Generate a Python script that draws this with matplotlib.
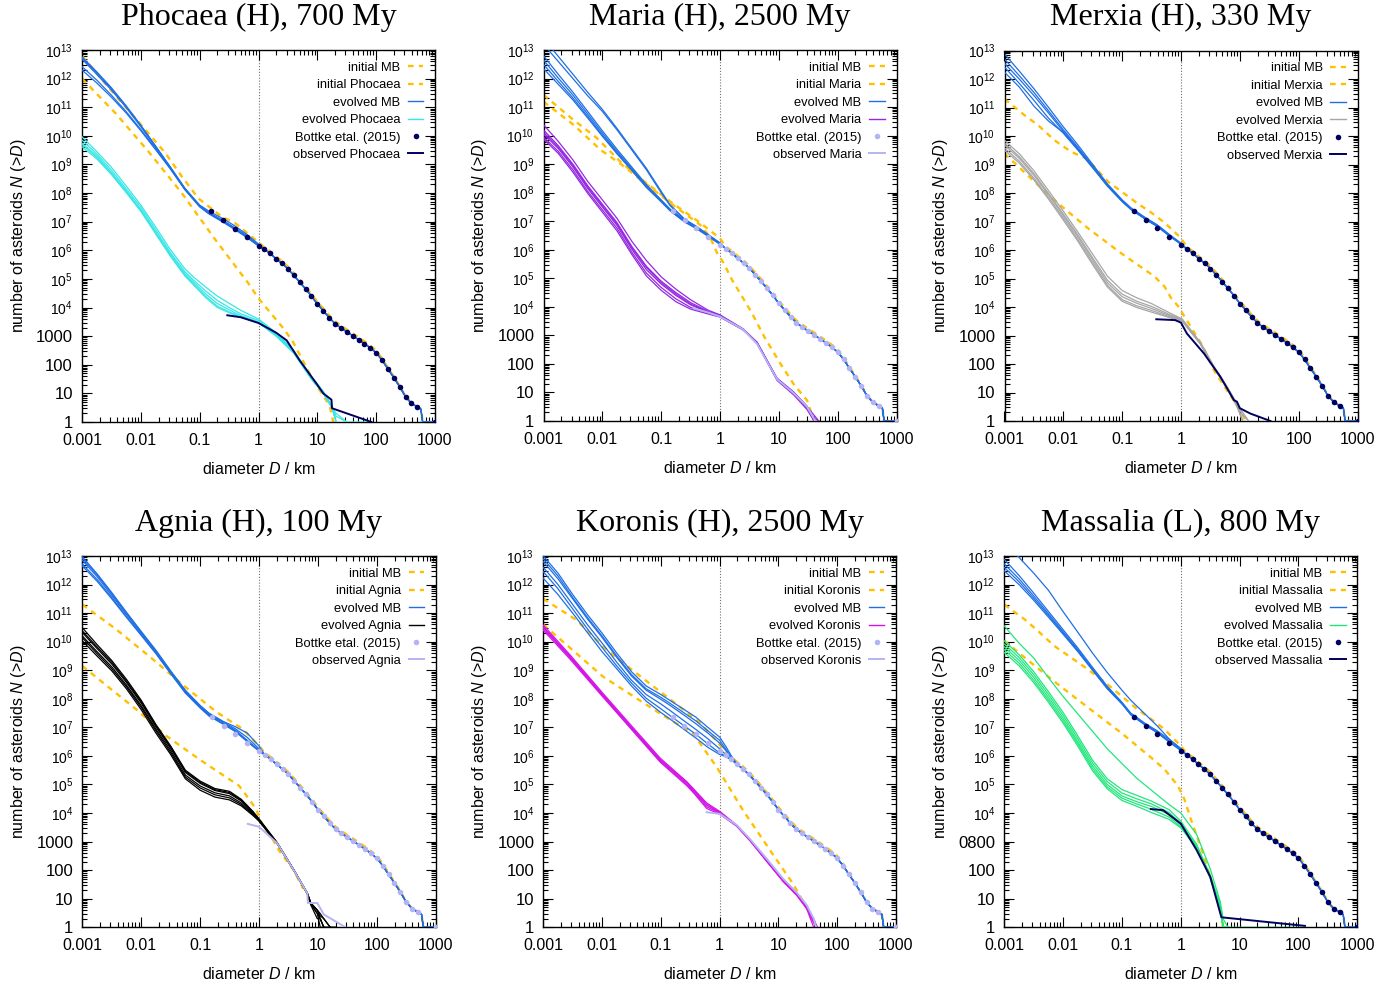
import numpy as np
import matplotlib
matplotlib.use('Agg')
import matplotlib.pyplot as plt
from matplotlib.lines import Line2D
from matplotlib.ticker import LogLocator, NullFormatter

plt.rcParams['font.family'] = ['Liberation Sans', 'DejaVu Sans']
plt.rcParams['mathtext.fontset'] = 'custom'
plt.rcParams['mathtext.rm'] = 'Liberation Sans'
plt.rcParams['mathtext.it'] = 'Liberation Sans:italic'

# ---------------- common data (log10 D [km], log10 N(>D)) ----------------
BOTTKE_LOGD = [-0.8, -0.6, -0.4, -0.2, 0.0, 0.1, 0.2, 0.3, 0.4, 0.5, 0.6, 0.7, 0.8, 0.9, 1.0,
               1.1, 1.2, 1.3, 1.4, 1.5, 1.6, 1.7, 1.8, 1.9, 2.0, 2.1, 2.2, 2.3, 2.4, 2.5, 2.6, 2.7, 3.0]
BOTTKE_LOGN = [7.37, 7.06, 6.76, 6.45, 6.16, 6.03, 5.89, 5.70, 5.54, 5.35, 5.12, 4.89, 4.65, 4.40, 4.12,
               3.89, 3.65, 3.44, 3.29, 3.15, 3.02, 2.88, 2.74, 2.59, 2.42, 2.16, 1.85, 1.55, 1.23, 0.88, 0.65, 0.53, 0.0]

MB_GRID = [-3.0, -2.75, -2.5, -2.25, -2.0, -1.75, -1.5, -1.25, -1.0, -0.85, -0.6, -0.4, -0.2, 0.0]
MB_TAIL_D = [0.1, 0.2, 0.3, 0.4, 0.5, 0.6, 0.7, 0.8, 0.9, 1.0, 1.1, 1.2, 1.3, 1.4, 1.5, 1.6, 1.7, 1.8,
             1.9, 2.0, 2.1, 2.2, 2.3, 2.4, 2.5, 2.6, 2.7, 2.76, 2.79, 3.0]
MB_TAIL_N = [6.03, 5.89, 5.70, 5.54, 5.35, 5.12, 4.89, 4.65, 4.40, 4.12, 3.89, 3.65, 3.44, 3.29, 3.15,
             3.02, 2.88, 2.74, 2.59, 2.42, 2.16, 1.85, 1.55, 1.23, 0.88, 0.65, 0.53, 0.45, 0.0, 0.0]
INIT_MB_TAIL_N = [6.10, 5.96, 5.78, 5.62, 5.43, 5.20, 4.97, 4.72, 4.47, 4.20, 3.97, 3.73, 3.52, 3.37, 3.23,
                  3.10, 2.96, 2.82, 2.67, 2.50, 2.22, 1.90, 1.58, 1.26, 0.90, 0.66, 0.54, 0.46, 0.0, 0.0]

# ---------------- Phocaea ----------------
PHO_INIT_MB_D = [-3.0, -2.49, -1.87, -1.58, -1.30, -1.02, -0.62, -0.39, 0.0]
PHO_INIT_MB_N = [12.8, 11.55, 10.09, 9.39, 8.57, 7.81, 7.17, 6.94, 6.28]
PHO_INIT_FAM_D = [-3.0, -2.43, -1.87, -1.30, -0.73, -0.17, 0.0, 0.40, 0.57, 0.93, 1.21, 1.27]
PHO_INIT_FAM_N = [12.0, 10.79, 9.45, 7.99, 6.36, 4.84, 4.32, 3.33, 2.86, 1.46, 0.57, 0.0]
PHO_MB_RUNS = [
    [12.72, 12.20, 11.65, 11.03, 10.35, 9.63, 8.90, 8.15, 7.55, 7.33, 7.04, 6.77, 6.50, 6.18],
    [12.76, 12.24, 11.68, 11.05, 10.37, 9.65, 8.92, 8.17, 7.58, 7.38, 7.10, 6.85, 6.56, 6.22],
    [12.68, 12.15, 11.60, 10.99, 10.32, 9.60, 8.88, 8.13, 7.52, 7.28, 6.98, 6.72, 6.45, 6.15],
    [12.42, 11.95, 11.42, 10.85, 10.22, 9.55, 8.86, 8.12, 7.53, 7.30, 7.00, 6.75, 6.47, 6.16],
    [12.30, 11.85, 11.35, 10.80, 10.18, 9.52, 8.85, 8.12, 7.54, 7.32, 7.02, 6.78, 6.52, 6.19],
]
PHO_FAM_D = [-3.0, -2.75, -2.5, -2.25, -2.0, -1.75, -1.5, -1.25, -1.1, -0.9, -0.7, -0.5, -0.3, 0.0,
             0.3, 0.6, 0.9, 1.1, 1.25, 1.32, 1.5, 1.85]
PHO_FAM_RUNS = [
    [9.97, 9.45, 8.90, 8.25, 7.58, 6.82, 6.03, 5.35, 5.06, 4.72, 4.40, 4.15, 3.90, 3.60, 3.12, 2.50, 1.58, 1.08, 0.55, 0.00, None, None],
    [9.85, 9.37, 8.80, 8.15, 7.50, 6.72, 5.93, 5.25, 4.95, 4.58, 4.25, 4.00, 3.78, 3.55, 3.08, 2.48, 1.55, 1.05, 0.50, 0.30, 0.00, 0.00],
    [9.74, 9.30, 8.72, 8.08, 7.42, 6.64, 5.86, 5.18, 4.88, 4.48, 4.14, 3.92, 3.72, 3.50, 3.05, 2.45, 1.52, 1.02, 0.48, 0.00, None, None],
    [9.62, 9.20, 8.65, 8.02, 7.36, 6.58, 5.80, 5.10, 4.78, 4.35, 4.00, 3.82, 3.66, 3.48, 3.02, 2.42, 1.50, 1.00, 0.50, 0.00, None, None],
    [9.70, 9.25, 8.68, 8.05, 7.40, 6.62, 5.84, 5.14, 4.82, 4.40, 4.05, 3.85, 3.68, 3.47, 3.00, 2.40, 1.50, 1.02, 0.52, 0.20, 0.00, None],
]
PHO_OBS_D = [-0.53, -0.3, 0.0, 0.3, 0.48, 0.7, 0.99, 1.1, 1.24, 1.25, 1.92]
PHO_OBS_N = [3.73, 3.66, 3.46, 3.12, 2.85, 2.15, 1.33, 1.0, 0.78, 0.48, 0.0]

# ---------------- Maria ----------------
MAR_INIT_MB_D = [-3.0, -2.49, -2.09, -1.67, -1.3, -0.82, -0.34, 0.0]
MAR_INIT_MB_N = [11.43, 10.55, 9.91, 9.04, 8.42, 7.65, 6.95, 6.40]
MAR_INIT_FAM_D = [-3.0, -2.49, -2.03, -1.67, -1.3, -0.82, -0.34, -0.17, -0.05, 0.06, 0.2, 0.37, 0.54, 0.75,
                  1.03, 1.25, 1.48, 1.6]
MAR_INIT_FAM_N = [11.19, 10.38, 9.5, 8.98, 8.38, 7.6, 6.88, 6.45, 5.89, 5.54, 4.96, 4.38, 3.79, 2.96,
                  2.0, 1.3, 0.72, 0.0]
MAR_MB_RUNS = [
    [12.65, 12.02, 11.42, 10.76, 10.09, 9.45, 8.85, 8.24, 7.72, 7.40, 7.00, 6.77, 6.50, 6.22],
    [12.80, 12.15, 11.52, 10.85, 10.17, 9.52, 8.90, 8.28, 7.75, 7.43, 7.03, 6.80, 6.52, 6.24],
    [12.50, 11.90, 11.32, 10.68, 10.02, 9.40, 8.80, 8.20, 7.70, 7.38, 6.98, 6.75, 6.48, 6.20],
    [12.35, 11.80, 11.25, 10.62, 9.98, 9.36, 8.78, 8.18, 7.68, 7.37, 6.97, 6.74, 6.47, 6.19],
    [13.20, 12.60, 12.00, 11.40, 10.85, 10.20, 9.50, 8.80, 8.00, 7.55, 7.05, 6.80, 6.52, 6.22],
    [13.40, 12.78, 12.15, 11.52, 10.92, 10.25, 9.55, 8.85, 8.05, 7.58, 7.07, 6.82, 6.53, 6.23],
]
MAR_FAM_D = [-3.0, -2.75, -2.5, -2.25, -2.0, -1.75, -1.5, -1.25, -1.0, -0.75, -0.5, -0.2, 0.0, 0.4,
             0.63, 0.97, 1.25, 1.48, 1.6, 1.68]
MAR_FAM_RUNS = [
    [10.38, 9.80, 9.15, 8.40, 7.75, 7.10, 6.30, 5.62, 5.05, 4.62, 4.25, 3.88, 3.72, 3.22, 2.76, 1.50, 1.02, 0.52, 0.00, None],
    [10.20, 9.65, 9.00, 8.25, 7.60, 6.95, 6.12, 5.42, 4.90, 4.50, 4.15, 3.84, 3.70, 3.21, 2.75, 1.48, 1.00, 0.50, 0.20, 0.00],
    [10.05, 9.55, 8.90, 8.15, 7.50, 6.85, 6.02, 5.30, 4.80, 4.40, 4.07, 3.81, 3.68, 3.20, 2.74, 1.46, 0.98, 0.45, 0.00, None],
    [9.95, 9.45, 8.80, 8.05, 7.40, 6.75, 5.92, 5.18, 4.68, 4.28, 3.98, 3.78, 3.66, 3.19, 2.73, 1.44, 0.95, 0.48, 0.10, 0.00],
    [9.88, 9.38, 8.72, 7.98, 7.32, 6.66, 5.84, 5.08, 4.58, 4.18, 3.92, 3.75, 3.64, 3.18, 2.72, 1.42, 0.92, 0.40, 0.00, None],
    [10.12, 9.60, 8.95, 8.20, 7.55, 6.90, 6.08, 5.38, 4.85, 4.45, 4.10, 3.82, 3.69, 3.20, 2.74, 1.47, 0.99, 0.50, 0.00, None],
]
MAR_OBS_D = [-0.45, -0.2, 0.0, 0.4, 0.63, 0.97, 1.25, 1.48, 1.62]
MAR_OBS_N = [3.95, 3.8, 3.66, 3.2, 2.7, 1.46, 0.98, 0.5, 0.0]

# ---------------- Merxia ----------------
MER_INIT_MB_D = [-3.0, -2.66, -2.43, -2.15, -1.87, -1.6, -1.24, -0.73, -0.51, -0.28, 0.0]
MER_INIT_MB_N = [11.3, 10.73, 10.38, 9.85, 9.45, 9.2, 8.4, 7.62, 7.32, 6.96, 6.42]
MER_INIT_FAM_D = [-3.0, -2.55, -2.09, -1.58, -1.02, -0.45, -0.28, -0.17, -0.05, 0.09, 0.23, 0.37, 0.56,
                  0.78, 1.01, 1.1]
MER_INIT_FAM_N = [9.39, 8.51, 7.64, 6.76, 5.89, 5.07, 4.72, 4.32, 4.03, 3.56, 3.09, 2.63, 1.78,
                  1.08, 0.38, 0.0]
MER_MB_RUNS = [
    [12.70, 12.12, 11.53, 10.88, 10.22, 9.60, 8.95, 8.28, 7.73, 7.45, 7.10, 6.85, 6.52, 6.22],
    [12.88, 12.28, 11.66, 11.00, 10.32, 9.68, 9.00, 8.32, 7.76, 7.48, 7.13, 6.88, 6.55, 6.24],
    [12.55, 12.00, 11.42, 10.80, 10.16, 9.55, 8.92, 8.26, 7.71, 7.43, 7.08, 6.83, 6.50, 6.21],
    [12.24, 11.72, 11.05, 10.52, 10.12, 9.52, 8.90, 8.25, 7.71, 7.43, 7.08, 6.83, 6.50, 6.21],
    [12.42, 11.85, 11.25, 10.62, 10.10, 9.50, 8.88, 8.24, 7.70, 7.42, 7.07, 6.82, 6.50, 6.20],
]
MER_FAM_D = [-3.0, -2.75, -2.5, -2.25, -2.0, -1.75, -1.5, -1.25, -1.0, -0.75, -0.5, -0.2, 0.02, 0.33,
             0.56, 0.78, 0.95, 1.05, 1.15]
MER_FAM_RUNS = [
    [9.85, 9.38, 8.78, 8.08, 7.36, 6.62, 5.85, 5.08, 4.58, 4.32, 4.12, 3.80, 3.58, 2.76, 1.92, 1.22, 0.62, 0.30, 0.00],
    [9.75, 9.28, 8.68, 7.98, 7.26, 6.52, 5.72, 4.94, 4.45, 4.20, 4.02, 3.74, 3.56, 2.74, 1.90, 1.20, 0.60, 0.00, None],
    [9.68, 9.22, 8.62, 7.93, 7.20, 6.45, 5.65, 4.85, 4.36, 4.13, 3.95, 3.70, 3.54, 2.72, 1.88, 1.18, 0.58, 0.20, 0.00],
    [9.58, 9.12, 8.52, 7.84, 7.12, 6.36, 5.56, 4.76, 4.26, 4.04, 3.88, 3.66, 3.52, 2.70, 1.86, 1.16, 0.55, 0.00, None],
    [9.50, 9.05, 8.46, 7.78, 7.05, 6.30, 5.48, 4.70, 4.20, 3.98, 3.82, 3.63, 3.50, 2.70, 1.85, 1.15, 0.50, 0.00, None],
]
MER_OBS_D = [-0.42, -0.1, 0.0, 0.1, 0.39, 0.67, 0.9, 0.95, 1.0, 1.18, 1.52]
MER_OBS_N = [3.57, 3.54, 3.45, 3.07, 2.37, 1.55, 0.73, 0.68, 0.45, 0.26, 0.0]

# ---------------- Agnia ----------------
AGN_INIT_MB_D = [-3.0, -2.66, -2.43, -2.15, -1.87, -1.64, -1.3, -0.73, -0.51, -0.28, 0.0]
AGN_INIT_MB_N = [11.3, 10.79, 10.44, 9.97, 9.5, 9.1, 8.5, 7.55, 7.25, 6.95, 6.35]
AGN_INIT_FAM_D = [-3.0, -2.55, -2.09, -1.58, -1.02, -0.51, -0.34, -0.17, -0.05, 0.06, 0.23, 0.34, 0.59, 0.75]
AGN_INIT_FAM_N = [9.15, 8.4, 7.64, 6.71, 5.89, 5.19, 4.96, 4.49, 4.14, 3.56, 3.09, 2.69, 2.0, 1.35]
AGN_MB_RUNS = [
    [12.85, 12.28, 11.62, 10.95, 10.30, 9.65, 8.93, 8.25, 7.73, 7.45, 7.15, 6.90, 6.55, 6.20],
    [12.98, 12.38, 11.72, 11.03, 10.36, 9.70, 8.98, 8.30, 7.77, 7.50, 7.20, 7.02, 6.80, 6.35],
    [12.72, 12.18, 11.55, 10.88, 10.25, 9.60, 8.90, 8.22, 7.70, 7.42, 7.12, 6.87, 6.52, 6.18],
    [12.65, 12.12, 11.50, 10.85, 10.22, 9.58, 8.88, 8.20, 7.68, 7.40, 7.10, 6.85, 6.50, 6.17],
    [12.92, 12.34, 11.68, 11.00, 10.33, 9.68, 8.96, 8.28, 7.75, 7.48, 7.18, 6.95, 6.65, 6.25],
]
AGN_FAM_D = [-3.0, -2.75, -2.5, -2.25, -2.0, -1.75, -1.5, -1.25, -1.0, -0.75, -0.5, -0.3, -0.1, 0.0,
             0.31, 0.59, 0.82, 0.88, 0.99, 1.04, 1.1, 1.21, 1.3]
AGN_FAM_RUNS = [
    [10.49, 9.90, 9.34, 8.68, 7.95, 7.10, 6.35, 5.50, 5.12, 4.86, 4.76, 4.48, 4.05, 3.80, 2.96, 2.02, 1.20, 0.85, 0.60, 0.40, 0.30, 0.00, 0.00],
    [10.32, 9.76, 9.22, 8.57, 7.85, 7.02, 6.27, 5.42, 5.04, 4.79, 4.68, 4.42, 4.01, 3.77, 2.95, 2.01, 1.20, 0.84, 0.48, 0.30, 0.00, 0.00, None],
    [10.20, 9.65, 9.12, 8.48, 7.76, 6.94, 6.19, 5.33, 4.95, 4.71, 4.60, 4.35, 3.97, 3.75, 2.94, 2.00, 1.19, 0.84, 0.60, 0.48, 0.30, 0.00, None],
    [10.14, 9.58, 9.05, 8.42, 7.70, 6.88, 6.12, 5.26, 4.88, 4.64, 4.53, 4.30, 3.94, 3.73, 2.93, 2.00, 1.18, 0.80, 0.48, 0.00, 0.00, None, None],
    [10.03, 9.50, 8.98, 8.35, 7.62, 6.80, 6.05, 5.20, 4.80, 4.56, 4.46, 4.25, 3.91, 3.72, 2.92, 1.99, 1.17, 0.78, 0.30, 0.30, 0.00, 0.00, 0.00],
    [10.38, 9.82, 9.28, 8.62, 7.90, 7.06, 6.30, 5.46, 5.08, 4.82, 4.72, 4.45, 4.03, 3.78, 2.95, 2.01, 1.19, 0.84, 0.60, 0.30, 0.00, None, None],
]
AGN_OBS_D = [-0.19, 0.0, 0.31, 0.59, 0.82, 0.83, 0.99, 1.1, 1.47]
AGN_OBS_N = [3.62, 3.52, 2.94, 2.0, 1.19, 0.85, 0.85, 0.45, 0.0]

# ---------------- Koronis ----------------
KOR_INIT_MB_D = [-3.0, -2.43, -1.98, -1.7, -1.2, -0.79, -0.33, 0.0]
KOR_INIT_MB_N = [11.5, 10.75, 9.82, 9.35, 8.55, 7.9, 7.15, 6.4]
KOR_INIT_FAM_D = [-3.0, -1.98, -1.01, -0.45, -0.05, 0.40, 0.86, 1.25, 1.54, 1.65]
KOR_INIT_FAM_N = [10.6, 8.77, 7.48, 6.78, 5.61, 4.09, 2.69, 1.52, 0.47, 0.0]
KOR_MB_RUNS = [
    [13.00, 12.40, 11.65, 10.95, 10.30, 9.60, 8.95, 8.45, 8.15, 7.95, 7.62, 7.35, 7.00, 6.66, 6.35, 6.00],
    [12.80, 12.20, 11.50, 10.80, 10.15, 9.45, 8.80, 8.30, 7.98, 7.78, 7.42, 7.12, 6.80, 6.45, 6.20, 5.92],
    [12.60, 12.00, 11.30, 10.60, 9.95, 9.28, 8.65, 8.15, 7.82, 7.60, 7.22, 6.92, 6.60, 6.25, 6.05, 5.88],
    [12.45, 11.85, 11.15, 10.45, 9.80, 9.15, 8.55, 8.02, 7.65, 7.42, 7.05, 6.75, 6.42, 6.10, 6.00, 5.87],
    [12.22, 11.65, 11.00, 10.32, 9.65, 9.05, 8.45, 7.92, 7.52, 7.30, 6.92, 6.62, 6.30, 6.05, 5.98, 5.86],
    [12.90, 12.30, 11.55, 10.85, 10.20, 9.50, 8.85, 8.35, 8.05, 7.85, 7.50, 7.22, 6.88, 6.55, 6.25, 5.95],
]
KOR_FAM_D = [-3.0, -2.55, -2.01, -1.51, -1.01, -0.56, -0.45, -0.22, 0.0, 0.29, 0.52, 0.8, 1.08, 1.31,
             1.48, 1.6, 1.66]
KOR_FAM_RUNS = [
    [10.58, 9.55, 8.25, 7.08, 5.92, 5.10, 4.86, 4.35, 4.06, 3.58, 3.06, 2.35, 1.66, 1.18, 0.72, 0.20, 0.00],
    [10.52, 9.50, 8.20, 7.03, 5.87, 5.05, 4.80, 4.28, 4.02, 3.56, 3.04, 2.33, 1.63, 1.16, 0.70, 0.15, 0.00],
    [10.46, 9.45, 8.16, 6.99, 5.82, 5.00, 4.76, 4.22, 3.99, 3.55, 3.03, 2.32, 1.62, 1.14, 0.68, 0.25, 0.00],
    [10.40, 9.40, 8.12, 6.95, 5.78, 4.96, 4.72, 4.16, 3.96, 3.54, 3.02, 2.31, 1.60, 1.12, 0.65, 0.00, None],
    [10.50, 9.48, 8.18, 7.00, 5.85, 5.08, 4.83, 4.30, 4.02, 3.56, 3.05, 2.34, 1.64, 1.17, 0.71, 0.30, 0.00],
]
KOR_OBS_D = [-0.22, 0.0, 0.29, 0.52, 0.8, 1.08, 1.31, 1.48, 1.6, 1.64]
KOR_OBS_N = [4.03, 3.97, 3.58, 3.08, 2.4, 1.7, 1.22, 0.78, 0.3, 0.0]

# ---------------- Massalia ----------------
MAS_INIT_MB_D = [-3.0, -2.66, -2.43, -2.15, -1.87, -1.64, -1.3, -0.73, -0.51, -0.28, 0.0]
MAS_INIT_MB_N = [11.3, 10.79, 10.38, 9.85, 9.45, 9.12, 8.6, 7.62, 7.3, 6.94, 6.35]
MAS_INIT_FAM_D = [-3.0, -2.55, -2.09, -1.58, -1.02, -0.51, -0.28, -0.05, 0.06, 0.17, 0.29, 0.37, 0.50, 0.67, 0.72]
MAS_INIT_FAM_N = [10.03, 9.27, 8.51, 7.7, 6.82, 5.95, 5.54, 4.96, 4.49, 3.79, 3.09, 2.63, 1.77, 0.72, 0.0]
MAS_MB_RUNS = [
    [12.72, 12.20, 11.60, 10.98, 10.35, 9.72, 9.05, 8.40, 7.85, 7.47, 7.10, 6.84, 6.52, 6.22],
    [12.88, 12.32, 11.70, 11.06, 10.42, 9.78, 9.10, 8.44, 7.88, 7.50, 7.13, 6.88, 6.58, 6.26],
    [12.60, 12.10, 11.52, 10.92, 10.30, 9.68, 9.02, 8.37, 7.83, 7.45, 7.08, 6.82, 6.50, 6.20],
    [12.48, 12.00, 11.45, 10.86, 10.26, 9.65, 9.00, 8.35, 7.82, 7.44, 7.07, 6.81, 6.49, 6.19],
    [13.50, 12.95, 12.40, 11.80, 11.05, 10.33, 9.60, 8.92, 8.30, 7.95, 7.45, 7.05, 6.60, 6.25],
]
MAS_FAM_D = [-3.0, -2.75, -2.5, -2.25, -2.0, -1.75, -1.5, -1.25, -1.0, -0.75, -0.5, -0.2, 0.0, 0.27,
             0.5, 0.67, 0.72, 0.8, 2.11]
MAS_FAM_RUNS = [
    [10.03, 9.55, 8.95, 8.25, 7.52, 6.70, 5.85, 5.20, 4.82, 4.62, 4.42, 4.12, 3.72, 2.90, 1.82, 0.78, 0.02, 0.00, None],
    [9.92, 9.45, 8.85, 8.15, 7.42, 6.60, 5.75, 5.10, 4.70, 4.50, 4.32, 4.02, 3.64, 2.85, 1.80, 0.75, 0.00, None, None],
    [9.82, 9.35, 8.75, 8.05, 7.32, 6.50, 5.65, 5.00, 4.60, 4.40, 4.23, 3.95, 3.58, 2.82, 1.77, 0.72, 0.00, 0.00, 0.00],
    [9.72, 9.25, 8.65, 7.96, 7.23, 6.42, 5.56, 4.92, 4.52, 4.32, 4.13, 3.86, 3.52, 2.80, 1.75, 0.70, 0.00, None, None],
    [9.62, 9.16, 8.57, 7.88, 7.15, 6.34, 5.48, 4.85, 4.44, 4.24, 4.02, 3.78, 3.48, 2.78, 1.72, 0.68, 0.00, 0.00, None],
    [10.55, 9.95, 9.43, 8.74, 8.08, 7.47, 6.86, 6.25, 5.73, 5.22, 4.80, 4.30, 4.00, 3.25, 2.05, 0.90, 0.30, 0.00, None],
]
MAS_OBS_D = [-0.51, -0.3, 0.0, 0.27, 0.5, 0.69, 2.11]
MAS_OBS_N = [4.14, 4.1, 3.63, 2.7, 1.77, 0.35, 0.05]

TITLES = ['Phocaea (H), 700 My', 'Maria (H), 2500 My', 'Merxia (H), 330 My',
          'Agnia (H), 100 My', 'Koronis (H), 2500 My', 'Massalia (L), 800 My']
NAMES = ['Phocaea', 'Maria', 'Merxia', 'Agnia', 'Koronis', 'Massalia']

X_TICKS = [-3, -2, -1, 0, 1, 2, 3]
X_TICKLABELS = ['0.001', '0.01', '0.1', '1', '10', '100', '1000']
Y_TICKS = list(range(0, 14))
Y_TICKLABELS = ['1', '10', '100', '1000'] + ['$10^{%d}$' % k for k in range(4, 14)]
Y_TICKLABELS_MAS = ['1', '10', '100', '0800'] + ['$10^{%d}$' % k for k in range(4, 14)]

# ---------------- styles ----------------
ORANGE = '#ffc000'
BLUE = '#1f6fe5'
NAVY = '#00005e'
LAVENDER = '#b4b4f4'
FAM_COLORS = ['#3ae6e6', '#9428e0', '#a6a6a6', '#000000', '#d414e6', '#22e67c']
BOTTKE_COLORS = [NAVY, LAVENDER, NAVY, LAVENDER, LAVENDER, NAVY]
OBS_COLORS = [NAVY, LAVENDER, NAVY, LAVENDER, LAVENDER, NAVY]

PANELS = [
    (PHO_INIT_MB_D, PHO_INIT_MB_N, PHO_INIT_FAM_D, PHO_INIT_FAM_N, PHO_MB_RUNS, PHO_FAM_D, PHO_FAM_RUNS, PHO_OBS_D, PHO_OBS_N),
    (MAR_INIT_MB_D, MAR_INIT_MB_N, MAR_INIT_FAM_D, MAR_INIT_FAM_N, MAR_MB_RUNS, MAR_FAM_D, MAR_FAM_RUNS, MAR_OBS_D, MAR_OBS_N),
    (MER_INIT_MB_D, MER_INIT_MB_N, MER_INIT_FAM_D, MER_INIT_FAM_N, MER_MB_RUNS, MER_FAM_D, MER_FAM_RUNS, MER_OBS_D, MER_OBS_N),
    (AGN_INIT_MB_D, AGN_INIT_MB_N, AGN_INIT_FAM_D, AGN_INIT_FAM_N, AGN_MB_RUNS, AGN_FAM_D, AGN_FAM_RUNS, AGN_OBS_D, AGN_OBS_N),
    (KOR_INIT_MB_D, KOR_INIT_MB_N, KOR_INIT_FAM_D, KOR_INIT_FAM_N, KOR_MB_RUNS, KOR_FAM_D, KOR_FAM_RUNS, KOR_OBS_D, KOR_OBS_N),
    (MAS_INIT_MB_D, MAS_INIT_MB_N, MAS_INIT_FAM_D, MAS_INIT_FAM_N, MAS_MB_RUNS, MAS_FAM_D, MAS_FAM_RUNS, MAS_OBS_D, MAS_OBS_N),
]

# axes boxes in pixels: left, top, right, bottom
BOXES = [(82, 50, 435, 422), (543.5, 50, 896.5, 421), (1004.5, 50.5, 1357.5, 421),
         (82.3, 556, 435.7, 927.3), (543.3, 556, 896, 927.3), (1004.3, 556, 1357.3, 927.3)]

W, H = 1400, 984
fig = plt.figure(figsize=(W / 100, H / 100), dpi=100)


def pw(v):
    return 10.0 ** np.array(v, dtype=float)


DASH = (0, (2.4, 2.2))

for i, (box, panel) in enumerate(zip(BOXES, PANELS)):
    (imb_d, imb_n, ifam_d, ifam_n, mb_runs, fam_d, fam_runs, obs_d, obs_n) = panel
    l, t, r, b = box
    ax = fig.add_axes([l / W, 1 - b / H, (r - l) / W, (b - t) / H])
    ax.set_xscale('log')
    ax.set_yscale('log')

    ax.axvline(1.0, color='#707070', lw=0.8, ls=(0, (1, 1.6)), zorder=0.5)

    # initial MB and initial family
    ax.plot(pw(imb_d + MB_TAIL_D), pw(imb_n + INIT_MB_TAIL_N), color=ORANGE, lw=1.7, ls=DASH, zorder=2)
    ax.plot(pw(ifam_d), pw(ifam_n), color=ORANGE, lw=1.7, ls=DASH, zorder=2)
    # evolved MB (runs may extend over the first tail points)
    for run in mb_runs:
        extra = len(run) - len(MB_GRID)
        ax.plot(pw(MB_GRID + MB_TAIL_D), pw(run + MB_TAIL_N[extra:]), color=BLUE, lw=0.9, zorder=3)
    # evolved family
    for run in fam_runs:
        ax.plot(pw(fam_d), pw(run), color=FAM_COLORS[i], lw=0.9, zorder=4)
    # Bottke et al. (2015)
    ax.plot(pw(BOTTKE_LOGD), pw(BOTTKE_LOGN), ls='none', marker='o', ms=4.0, mec='none',
            color=BOTTKE_COLORS[i], zorder=5)
    # observed family
    ax.plot(pw(obs_d), pw(obs_n), color=OBS_COLORS[i], lw=1.4, zorder=6)

    ax.set_xlim(1e-3, 1e3)
    ax.set_ylim(1, 1e13)

    ax.set_xticks(pw(X_TICKS), X_TICKLABELS, fontsize=11.5)
    ylabels = Y_TICKLABELS_MAS if i == 5 else Y_TICKLABELS
    ax.set_yticks(pw(Y_TICKS), ylabels)
    for k, tk in enumerate(ax.yaxis.get_major_ticks()):
        tk.label1.set_fontsize(12 if k < 4 else 10)
    ax.xaxis.set_minor_locator(LogLocator(base=10, subs=np.arange(2, 10), numticks=100))
    ax.yaxis.set_minor_locator(LogLocator(base=10, subs=np.arange(2, 10), numticks=100))
    ax.xaxis.set_minor_formatter(NullFormatter())
    ax.yaxis.set_minor_formatter(NullFormatter())
    ax.tick_params(which='both', direction='in', top=True, right=True, width=0.8)
    ax.tick_params(which='major', length=7)
    ax.tick_params(which='minor', length=3.5)
    ax.tick_params(axis='x', which='major', pad=8)
    ax.tick_params(axis='y', which='major', pad=6.5)
    for s in ax.spines.values():
        s.set_linewidth(1.0)

    ax.set_xlabel('diameter $D$ / km', fontsize=11.5, labelpad=9)
    ax.set_ylabel('number of asteroids $N$ (>$D$)', fontsize=11.5, labelpad=6)
    ax.set_title(TITLES[i], fontsize=23, family=['Liberation Serif', 'DejaVu Serif'], pad=18)

    name = NAMES[i]
    handles = [
        Line2D([], [], color=ORANGE, lw=1.7, ls=DASH),
        Line2D([], [], color=ORANGE, lw=1.7, ls=DASH),
        Line2D([], [], color=BLUE, lw=1.0),
        Line2D([], [], color=FAM_COLORS[i], lw=1.0),
        Line2D([], [], ls='none', marker='o', ms=4.0, mec='none', color=BOTTKE_COLORS[i]),
        Line2D([], [], color=OBS_COLORS[i], lw=1.4),
    ]
    labels = ['initial MB', 'initial ' + name, 'evolved MB', 'evolved ' + name,
              'Bottke etal. (2015)', 'observed ' + name]
    ax.legend(handles, labels, loc='upper right', frameon=False, markerfirst=False, fontsize=9.3,
              handlelength=1.2, handletextpad=0.6, labelspacing=0.42, borderaxespad=0.5, borderpad=0.4)

fig.savefig('out.png', dpi=100)
